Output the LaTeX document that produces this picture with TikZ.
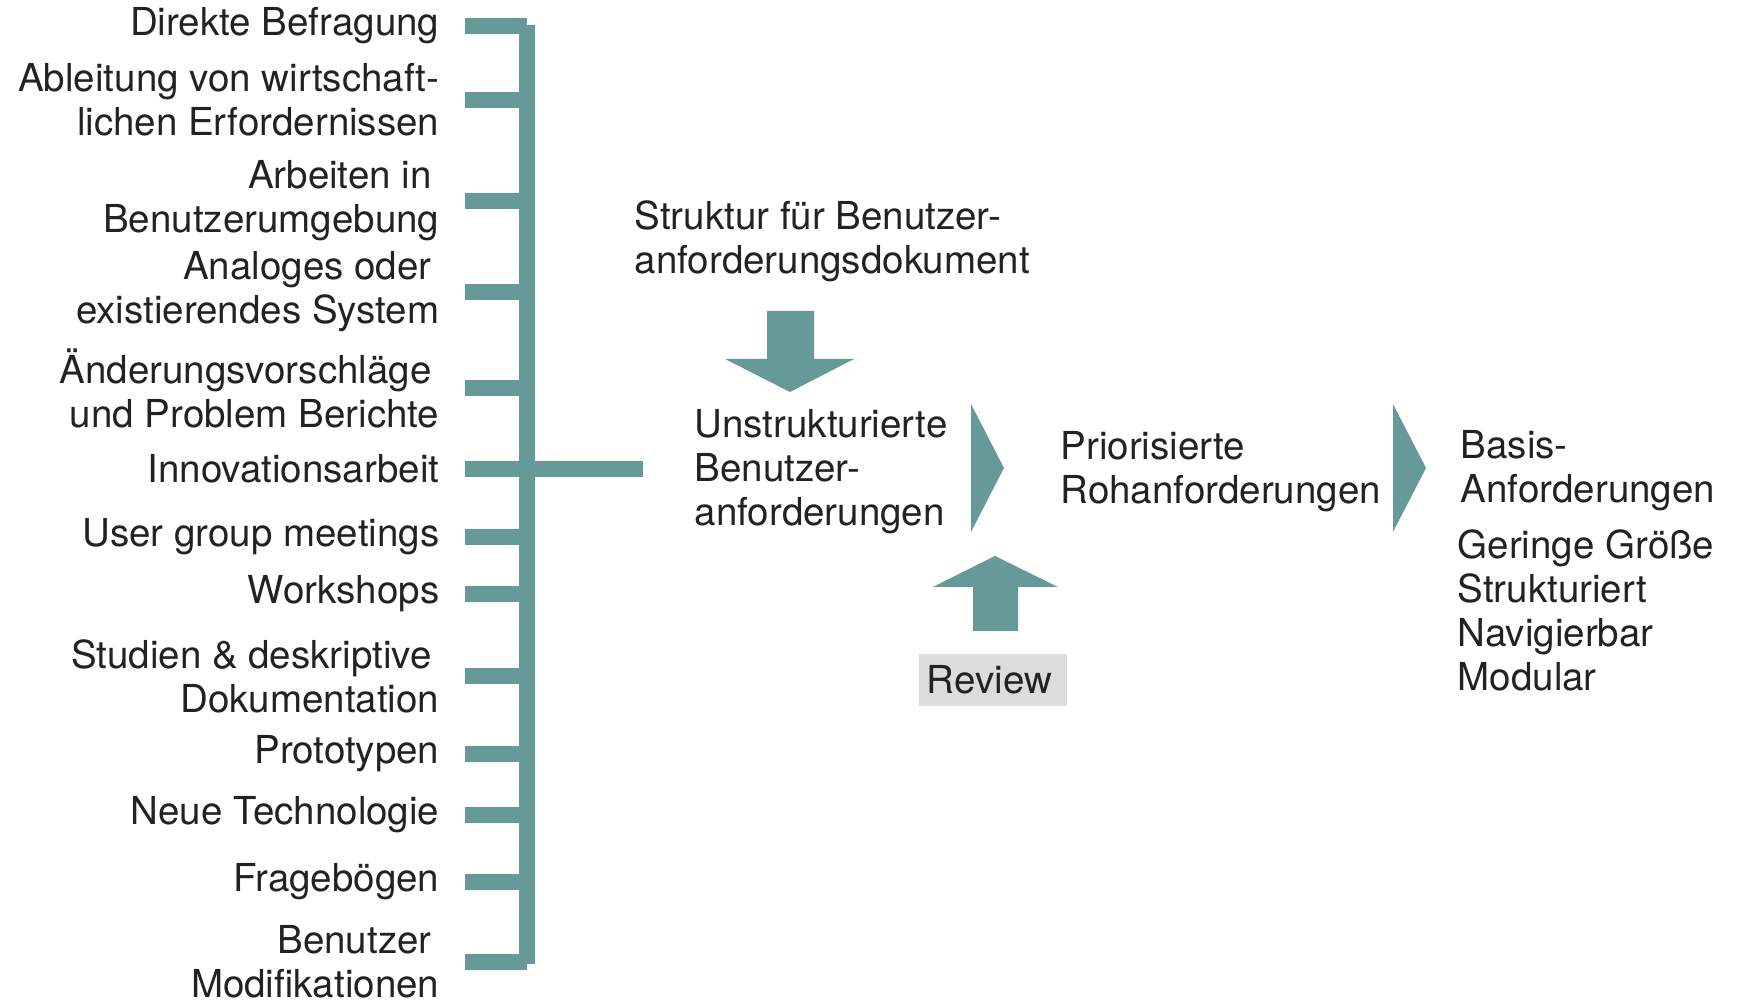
\documentclass[tikz,border=0pt]{standalone}
\usepackage{fontspec}
\setmainfont{TeX Gyre Heros}
\usepackage{xcolor}
\usetikzlibrary{positioning,calc}
\definecolor{reqteal}{RGB}{102,154,152}
\definecolor{inkgray}{RGB}{34,34,34}
\definecolor{reviewgray}{RGB}{220,220,220}

\begin{document}
\begin{tikzpicture}[x=0.01cm,y=-0.01cm,
    every node/.style={font=\fontsize{10.95pt}{12.5pt}\selectfont, text=inkgray, inner sep=0pt},
    src/.style={anchor=east, align=right},
    txt/.style={anchor=west, align=left},
    tick/.style={draw=reqteal, line width=0.16cm},
    bar/.style={draw=reqteal, line width=0.16cm, line cap=square},
    blockarrow/.style={fill=reqteal}]
  \useasboundingbox (0,0) rectangle (1738,1001);

  % sources, right aligned
  \node[src] (s1)  at (440,26)  {Direkte Befragung};
  \node[src] (s2)  at (440,100) {Ableitung von wirtschaft-\\lichen Erfordernissen};
  \node[src] (s3)  at (440,201) {Arbeiten in\hspace*{.2em}\\Benutzerumgebung};
  \node[src] (s4)  at (440,292) {Analoges oder\hspace*{.2em}\\existierendes System};
  \node[src] (s5)  at (440,388) {Änderungsvorschläge\hspace*{.2em}\\und Problem Berichte};
  \node[src] (s6)  at (440,469) {Innovationsarbeit};
  \node[src] (s7)  at (440,537) {User group meetings};
  \node[src] (s8)  at (440,594) {Workshops};
  \node[src] (s9)  at (440,676) {Studien \& deskriptive\hspace*{.2em}\\Dokumentation};
  \node[src] (s10) at (440,754) {Prototypen};
  \node[src] (s11) at (440,815) {Neue Technologie};
  \node[src] (s12) at (440,882) {Fragebögen};
  \node[src] (s13) at (440,962) {Benutzer\hspace*{.2em}\\Modifikationen};

  % collecting bar
  \coordinate (bartop) at (527,25);
  \coordinate (barbot) at (527,964);
  \draw[bar] (bartop) -- (barbot);
  \foreach \s in {s1,s2,s3,s4,s5,s7,s8,s9,s10,s11,s12,s13}
    \draw[tick] ([xshift=0.25cm]\s.east) -- (\s.east -| bartop);

  % process
  \node[txt] (struct) at (634,241) {Struktur für Benutzer-\\anforderungsdokument};
  \node[txt] (unstr)  at (694,472) {Unstrukturierte\\Benutzer-\\anforderungen};
  \node[txt] (prio)   at (1060,472) {Priorisierte\\Rohanforderungen};
  \node[txt] (basis)  at (1460,471) {Basis-\\Anforderungen};
  \node[txt] (props)  at (1457,610) {Geringe Größe\\Strukturiert\\Navigierbar\\Modular};
  \node[fill=reviewgray, align=left, text width=1.32cm, inner xsep=0.08cm,
    minimum height=0.51cm] (review) at (993,680) {Review};

  \coordinate (feed) at ($(unstr.west |- s6.east)+(-51,0)$);
  \draw[tick] ([xshift=0.25cm]s6.east) -- (feed);

  % block arrows
  \fill[blockarrow] (767,311) -- (814,311) -- (814,359) -- (854,359) -- (790,392)
    -- (725,359) -- (767,359) -- cycle;
  \fill[blockarrow] (973,631) -- (1018,631) -- (1018,587) -- (1058,587) -- (995,556)
    -- (933,587) -- (973,587) -- cycle;
  \fill[blockarrow] (971,404) -- (1004,468) -- (971,532) -- cycle;
  \fill[blockarrow] (1393,404) -- (1426,468) -- (1393,532) -- cycle;
\end{tikzpicture}
\end{document}
